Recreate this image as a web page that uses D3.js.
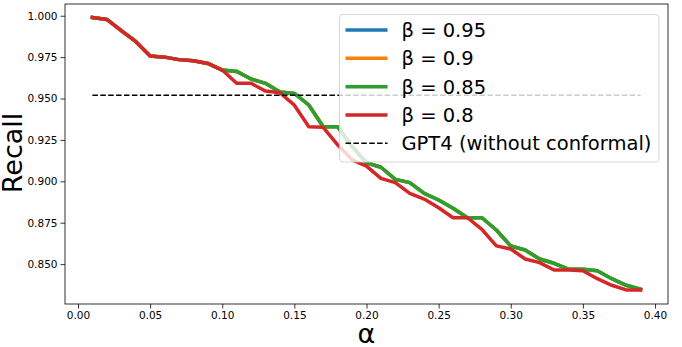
<!DOCTYPE html>
<html>
<head>
<meta charset="utf-8">
<script src="https://cdn.jsdelivr.net/npm/d3@7"></script>
<style>
  body { margin: 0; background: #fff; }
  text { font-family: "DejaVu Sans", sans-serif; }
</style>
</head>
<body>
<svg id="chart"></svg>
<script>
// alpha values on the x axis
var alphas = [0.01, 0.02, 0.03, 0.04, 0.05, 0.06, 0.07, 0.08, 0.09, 0.10,
              0.11, 0.12, 0.13, 0.14, 0.15, 0.16, 0.17, 0.18, 0.19, 0.20,
              0.21, 0.22, 0.23, 0.24, 0.25, 0.26, 0.27, 0.28, 0.29, 0.30,
              0.31, 0.32, 0.33, 0.34, 0.35, 0.36, 0.37, 0.38, 0.39];

// recall for beta = 0.85 (blue and orange lie under it)
var recall085 = [0.999, 0.9978, 0.991, 0.9845, 0.9757, 0.975, 0.9735, 0.9728, 0.9712, 0.9672,
                 0.9664, 0.9618, 0.9592, 0.954, 0.9531, 0.9461, 0.933, 0.933, 0.921, 0.9112,
                 0.9085, 0.9012, 0.8992, 0.8927, 0.8887, 0.8837, 0.878, 0.878, 0.8706, 0.8609,
                 0.8585, 0.8531, 0.8505, 0.8469, 0.8469, 0.846, 0.8412, 0.8372, 0.8348];
var recall095 = recall085.slice();
var recall090 = recall085.slice();

// recall for beta = 0.8
var recall080 = [0.999, 0.9978, 0.991, 0.9845, 0.9757, 0.975, 0.9735, 0.9728, 0.9712, 0.9672,
                 0.9592, 0.9592, 0.9545, 0.9535, 0.946, 0.933, 0.9326, 0.922, 0.913, 0.9092,
                 0.9018, 0.8992, 0.8927, 0.8893, 0.884, 0.878, 0.878, 0.871, 0.861, 0.8591,
                 0.8531, 0.8509, 0.8464, 0.8464, 0.846, 0.8412, 0.8372, 0.8344, 0.8344];

var gpt4Recall = 0.952;

var seriesNames = ["β = 0.95", "β = 0.9", "β = 0.85", "β = 0.8"];
var seriesColors = ["#1f77b4", "#ff7f0e", "#2ca02c", "#d62728"];
var seriesValues = [recall095, recall090, recall085, recall080];
var gpt4Label = "GPT4 (without conformal)";

var xTicks = [0.00, 0.05, 0.10, 0.15, 0.20, 0.25, 0.30, 0.35, 0.40];
var yTicks = [0.850, 0.875, 0.900, 0.925, 0.950, 0.975, 1.000];
var xLim = [-0.009, 0.409];
var yLim = [0.8259, 1.0071];

var width = 682, height = 347;
var margin = { top: 4, right: 14, bottom: 43, left: 65 };

var svg = d3.select("#chart")
  .attr("width", width)
  .attr("height", height);

var x = d3.scaleLinear().domain(xLim).range([margin.left, width - margin.right]);
var y = d3.scaleLinear().domain(yLim).range([height - margin.bottom, margin.top]);

// axes
var xAxis = svg.append("g")
  .attr("transform", "translate(0," + (height - margin.bottom) + ")")
  .call(d3.axisBottom(x).tickValues(xTicks).tickFormat(d3.format(".2f")).tickSizeInner(4.5).tickSizeOuter(0).tickPadding(3));
var yAxis = svg.append("g")
  .attr("transform", "translate(" + margin.left + ",0)")
  .call(d3.axisLeft(y).tickValues(yTicks).tickFormat(d3.format(".3f")).tickSizeInner(4.5).tickSizeOuter(0).tickPadding(3));

[xAxis, yAxis].forEach(function(g) {
  g.select(".domain").remove();
  g.selectAll(".tick line").attr("stroke", "#000").attr("stroke-width", 0.8);
  g.selectAll(".tick text")
    .attr("fill", "#000")
    .style("font-family", "'DejaVu Sans', sans-serif")
    .style("font-size", "10.5px");
});

// frame
svg.append("rect")
  .attr("x", margin.left)
  .attr("y", margin.top)
  .attr("width", width - margin.left - margin.right)
  .attr("height", height - margin.top - margin.bottom)
  .attr("fill", "none")
  .attr("stroke", "#000")
  .attr("stroke-width", 0.8);

// lines
var line = d3.line()
  .x(function(d, i) { return x(alphas[i]); })
  .y(function(d) { return y(d); });

seriesValues.forEach(function(vals, i) {
  svg.append("path")
    .datum(vals)
    .attr("d", line)
    .attr("fill", "none")
    .attr("stroke", seriesColors[i])
    .attr("stroke-width", 3.5)
    .attr("stroke-linejoin", "round")
    .attr("stroke-linecap", "square");
});

// GPT4 reference
svg.append("line")
  .attr("x1", x(alphas[0]))
  .attr("x2", x(alphas[alphas.length - 1]))
  .attr("y1", y(gpt4Recall))
  .attr("y2", y(gpt4Recall))
  .attr("stroke", "#000")
  .attr("stroke-width", 1.5)
  .attr("stroke-dasharray", "5.5,2.4");

// axis labels
svg.append("text")
  .attr("x", x(0.2))
  .attr("y", 343)
  .attr("text-anchor", "middle")
  .style("font-size", "27px")
  .text("α");

svg.append("text")
  .attr("transform", "translate(22,153) rotate(-90)")
  .attr("text-anchor", "middle")
  .style("font-size", "27px")
  .text("Recall");

// legend
var legend = svg.append("g").attr("transform", "translate(339.5,14.5)");
legend.append("rect")
  .attr("width", 319.5)
  .attr("height", 147.5)
  .attr("rx", 3.5)
  .attr("fill", "#fff")
  .attr("fill-opacity", 0.8)
  .attr("stroke", "#ccc")
  .attr("stroke-opacity", 0.8)
  .attr("stroke-width", 1);

var rowY = [15.5, 43.8, 72.2, 100.5, 128.8];
var legendItems = seriesNames.map(function(n, i) { return { name: n, color: seriesColors[i], dash: null }; });
legendItems.push({ name: gpt4Label, color: "#000", dash: "5.5,2.4" });

legendItems.forEach(function(it, i) {
  legend.append("line")
    .attr("x1", 6).attr("x2", 48)
    .attr("y1", rowY[i]).attr("y2", rowY[i])
    .attr("stroke", it.color)
    .attr("stroke-width", it.dash ? 1.5 : 3.5)
    .attr("stroke-dasharray", it.dash);
  legend.append("text")
    .attr("x", 62)
    .attr("y", rowY[i] + 7)
    .style("font-size", "19.5px")
    .attr("fill", "#000")
    .text(it.name);
});
</script>
</body>
</html>
